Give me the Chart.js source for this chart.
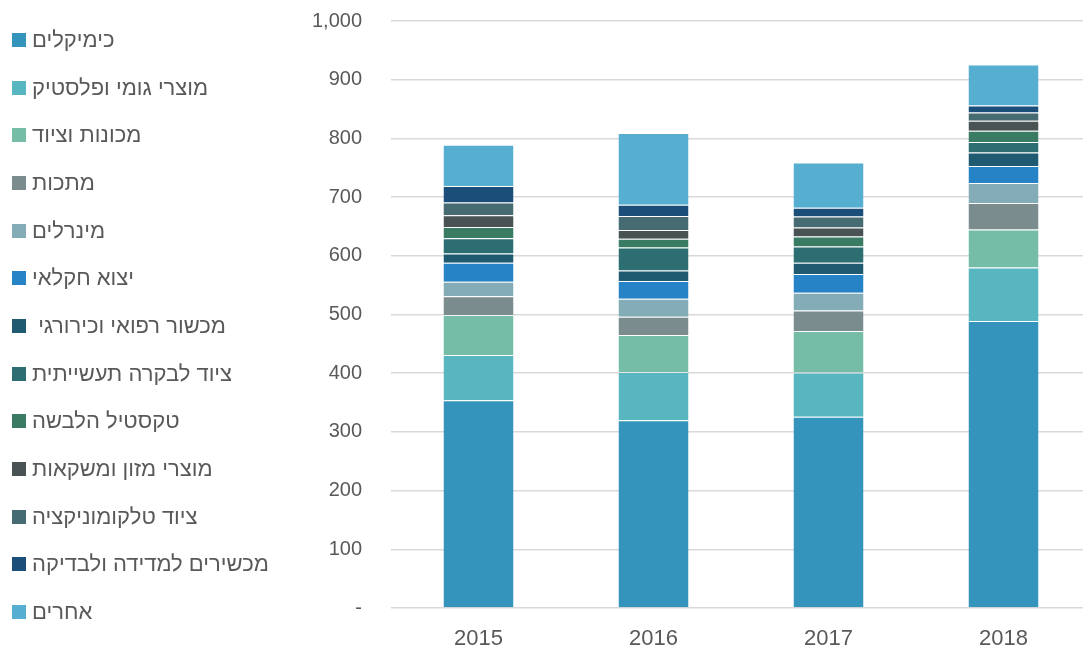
<!DOCTYPE html>
<html lang="he">
<head>
<meta charset="utf-8">
<title>Stacked exports</title>
<script src="https://cdn.jsdelivr.net/npm/chart.js@4/dist/chart.umd.min.js"></script>
<style>
  html, body { margin: 0; padding: 0; background: #fff; overflow: hidden; }
  #wrap { position: relative; width: 1091px; height: 650px; }
  #legend { position: absolute; left: 0; top: 0; width: 300px; height: 650px; }
  .item { position: absolute; left: 12px; height: 24px; display: flex; align-items: center;
          font-family: "Liberation Sans", Arial, sans-serif; font-size: 22px; color: #595959; white-space: pre; }
  .box { width: 14px; height: 14px; margin-right: 6px; flex: none; }
</style>
</head>
<body>
<div id="wrap">
  <canvas id="chart" width="1091" height="650"></canvas>
  <div id="legend"></div>
</div>
<script>
// ----------------------
// Data
// ----------------------
const years = ["2015", "2016", "2017", "2018"];

const seriesNames = [
  "כימיקלים",
  "מוצרי גומי ופלסטיק",
  "מכונות וציוד",
  "מתכות",
  "מינרלים",
  "יצוא חקלאי",
  " מכשור רפואי וכירורגי",
  "ציוד לבקרה תעשייתית",
  "טקסטיל הלבשה",
  "מוצרי מזון ומשקאות",
  "ציוד טלקומוניקציה",
  "מכשירים למדידה ולבדיקה",
  "אחרים"
];

const chemicals   = [354, 320, 326, 489];
const rubber      = [77, 82, 75, 91];
const machinery   = [68, 63, 71, 65];
const metals      = [32, 31, 35, 45];
const minerals    = [25, 31, 30, 34];
const agriculture = [32, 30, 32, 29];
const medical     = [16, 18, 19, 23];
const control     = [26, 39, 28, 18];
const textile     = [19, 15, 17, 19];
const food        = [20, 15, 15, 17];
const telecom     = [22, 24, 19, 14];
const measuring   = [28, 19, 15, 12];
const others      = [70, 122, 77, 70];

const yTicks = [0, 100, 200, 300, 400, 500, 600, 700, 800, 900, 1000];

const seriesValues = [chemicals, rubber, machinery, metals, minerals, agriculture,
  medical, control, textile, food, telecom, measuring, others];

const colors = [
  "#3594bc", "#58b6c0", "#75bda7", "#7a8c8e", "#84acb6", "#2683c6",
  "#1f5a70", "#2c6e72", "#3a7b63", "#4a5354", "#466b72", "#1b4f79", "#56aed1"
];

// ----------------------
// Legend (left side)
// ----------------------
const legendEl = document.getElementById("legend");
seriesNames.forEach((name, i) => {
  const row = document.createElement("div");
  row.className = "item";
  row.style.top = (28 + i * 47.67) + "px";
  const box = document.createElement("span");
  box.className = "box";
  box.style.background = colors[i];
  const txt = document.createElement("span");
  txt.textContent = name;
  row.appendChild(box);
  row.appendChild(txt);
  legendEl.appendChild(row);
});

// ----------------------
// Chart
// ----------------------
const fontFamily = "'Liberation Sans', Arial, sans-serif";

new Chart(document.getElementById("chart"), {
  type: "bar",
  data: {
    labels: years,
    datasets: seriesNames.map((name, i) => ({
      label: name,
      data: seriesValues[i],
      backgroundColor: colors[i],
      borderColor: "rgba(255,255,255,0.35)",
      borderWidth: { top: 1, left: 0, right: 0, bottom: 0 },
      borderSkipped: false,
      barPercentage: 0.4,
      categoryPercentage: 1
    }))
  },
  options: {
    responsive: false,
    animation: false,
    layout: { padding: { left: 291, top: 21, right: 0, bottom: 0 } },
    plugins: {
      legend: { display: false },
      tooltip: { enabled: false }
    },
    scales: {
      x: {
        stacked: true,
        grid: { display: false, drawTicks: false },
        border: { display: false },
        ticks: { color: "#595959", font: { family: fontFamily, size: 22 }, padding: 18 },
        afterFit(scale) { scale.height = 42; }
      },
      y: {
        stacked: true,
        min: 0,
        max: 1000,
        afterBuildTicks(scale) { scale.ticks = yTicks.map(v => ({ value: v })); },
        // transparent tick marks keep the labels away from the grid
        grid: { color: "#d9d9d9", lineWidth: 1.5, drawTicks: true, tickLength: 29, tickColor: "rgba(0,0,0,0)" },
        border: { display: false },
        ticks: {
          color: "#595959",
          font: { family: fontFamily, size: 20 },
          padding: 0,
          callback: v => v === 0 ? "-" : v.toLocaleString("en-US")
        },
        afterFit(scale) { scale.width = 100; }
      }
    }
  }
});
</script>
</body>
</html>
